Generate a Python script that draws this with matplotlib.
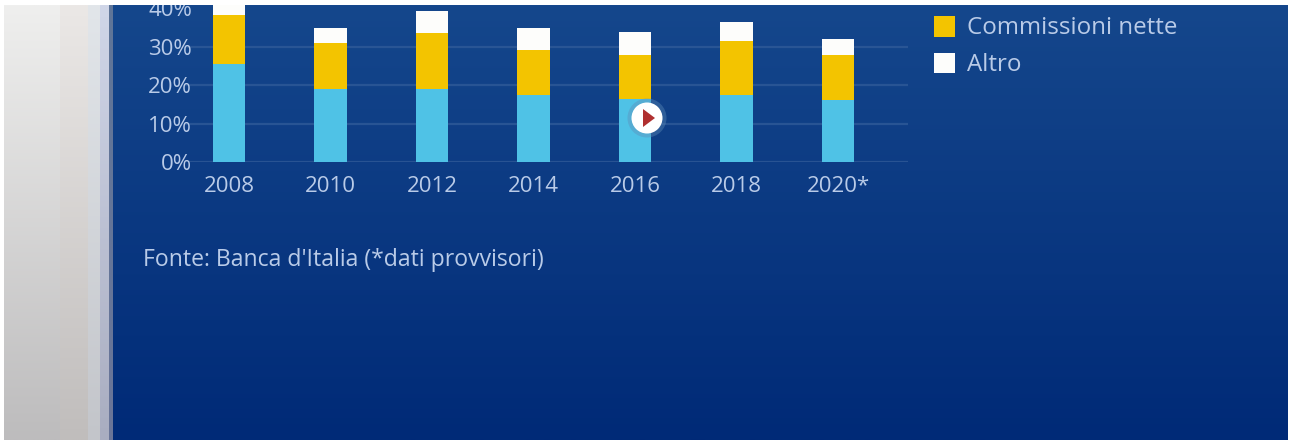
import matplotlib
matplotlib.use("Agg")
import matplotlib.pyplot as plt
import numpy as np
from matplotlib.colors import to_rgb
from matplotlib.patches import Circle, Polygon, Rectangle

plt.rcParams['font.family'] = ['Open Sans', 'DejaVu Sans']

# share of income by year, in percent
years = ['2008', '2010', '2012', '2014', '2016', '2018', '2020*']
interessi = [25.6, 19.0, 19.0, 17.5, 16.5, 17.5, 16.2]
commissioni = [12.7, 12.0, 14.6, 11.7, 11.5, 14.1, 11.8]
altro = [3.5, 4.0, 5.7, 5.8, 5.8, 4.9, 4.0]

ytick_values = [0, 10, 20, 30, 40]
ytick_labels = ['0%', '10%', '20%', '30%', '40%']

W, H = 1289, 441
text_col = '#b9cbe8'


# vertical gradient filling one column of the page background
def gradient(axes, x0, x1, col_top, col_bottom):
    t = np.linspace(0, 1, 256)[:, None]
    c0, c1 = np.array(to_rgb(col_top)), np.array(to_rgb(col_bottom))
    axes.imshow((c0 + (c1 - c0) * t)[:, None, :], extent=(x0, x1, 440, 5),
                aspect='auto', zorder=1)


fig = plt.figure(figsize=(W / 100, H / 100), dpi=100, facecolor='white')

# slide background: grey side strip and blue gradient
bg = fig.add_axes([0, 0, 1, 1], zorder=0)
gradient(bg, 113, 1288, '#15478c', '#002a77')
gradient(bg, 4, 60, '#efefee', '#bdbcbd')
gradient(bg, 60, 88, '#ebe8e6', '#c0bdbc')
gradient(bg, 88, 100, '#e2e6ea', '#c3c5ca')
gradient(bg, 100, 109, '#d0d6e8', '#a9adc0')
gradient(bg, 109, 113, '#5f7598', '#6a7599')
bg.set_xlim(0, W)
bg.set_ylim(H, 0)
bg.axis('off')

# stacked bars
ax_left, ax_right, ax_top, ax_bottom = 185, 908, 5, 162.5
ax = fig.add_axes([ax_left / W, 1 - ax_bottom / H, (ax_right - ax_left) / W,
                   (ax_bottom - ax_top) / H], zorder=2)
ax.patch.set_alpha(0)
step = 101.5
ax.set_xlim((ax_left - 229) / step, (ax_right - 229) / step)
ax.set_ylim(0, (ax_bottom - ax_top) / 3.85)

x = np.arange(len(years))
interessi = np.array(interessi)
commissioni = np.array(commissioni)
altro = np.array(altro)
ax.bar(x, interessi, width=0.325, color='#4fc2e6', zorder=3)
ax.bar(x, commissioni, width=0.325, bottom=interessi, color='#f3c400',
       label='Commissioni nette', zorder=3)
ax.bar(x, altro, width=0.325, bottom=interessi + commissioni, color='#fdfdfb',
       label='Altro', zorder=3)

ax.set_xticks(x, years)
ax.set_yticks(ytick_values, ytick_labels)
ax.tick_params(length=0, labelsize=16, labelcolor=text_col)
ax.tick_params(axis='x', pad=10)
ax.tick_params(axis='y', pad=-5)
for label in ax.get_yticklabels():
    label.set_clip_on(False)
ax.grid(axis='y', color='#2f5a98', lw=1.6, alpha=0.8, zorder=1)
ax.get_ygridlines()[-1].set_visible(False)
ax.set_axisbelow(True)
for s in ax.spines.values():
    s.set_visible(False)

fig.legend(loc='upper left', bbox_to_anchor=(912 / W, 1 + 6 / H), frameon=False,
           fontsize=17.4, labelcolor=text_col, handlelength=0.88, handleheight=0.95,
           handletextpad=0.5, labelspacing=0.5, borderpad=0.4)

fig.text(143 / W, 1 - 260 / H, "Fonte: Banca d'Italia (*dati provvisori)",
         color=text_col, fontsize=16.6, va='center', ha='left')

# overlay: video play button and the white image border
over = fig.add_axes([0, 0, 1, 1], zorder=5)
over.set_xlim(0, W)
over.set_ylim(H, 0)
over.axis('off')
over.add_patch(Circle((647, 118), 19.5, color='#5f8cb8', alpha=0.4, lw=0))
over.add_patch(Circle((647, 118), 15.5, color='white', lw=0))
over.add_patch(Polygon([[643, 109], [643, 127], [655, 118]], color='#b03030', lw=0))
over.add_patch(Rectangle((0, 0), W, 5, color='white', lw=0))
over.add_patch(Rectangle((0, 0), 4, H, color='white', lw=0))
over.add_patch(Rectangle((1288, 0), 1, H, color='white', lw=0))
over.add_patch(Rectangle((0, 440), W, 1, color='white', lw=0))

fig.savefig('out.png', dpi=100, facecolor='white')
